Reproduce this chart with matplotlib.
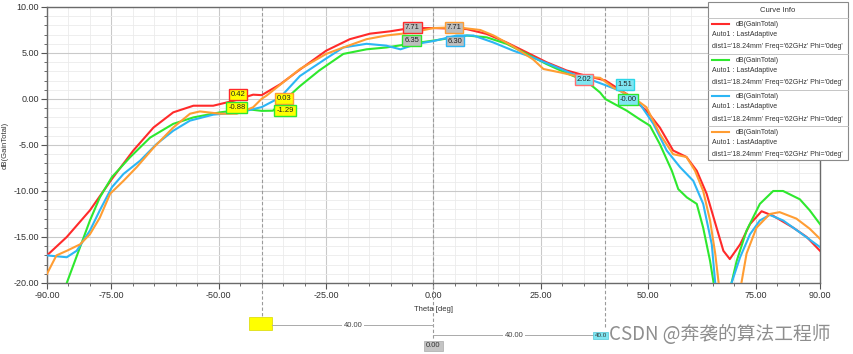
import numpy as np
import matplotlib.pyplot as plt
from matplotlib.patches import Rectangle
from matplotlib.lines import Line2D

# --- data (theta in deg, gain in dB) ---
red_theta = [-90, -85.4, -80, -74.9, -69.9, -65.2, -60.6, -55.9, -51.3, -46.6, -42, -40, -35.7,
             -31.1, -25, -19.5, -14.8, -10.2, -5.5, 0, 7.7, 12.4, 17, 21.7, 26.3, 31, 35.7, 40,
             45, 49.6, 52.7, 55.8, 58.9, 61.3, 63.6, 65.9, 67.5, 69, 71.4, 73.7, 76.4, 79.1,
             83.8, 86.9, 90]
red_gain = [-17.0, -15.0, -12.1, -8.7, -5.6, -3.1, -1.45, -0.73, -0.73, -0.2, 0.47, 0.42, 1.6,
            3.2, 5.25, 6.5, 7.1, 7.35, 7.7, 7.71, 7.6, 7.07, 6.15, 5.07, 4.0, 3.1, 2.5, 2.02,
            0.54, -1.27, -3.1, -5.6, -6.3, -7.8, -10.3, -13.96, -16.5, -17.4, -15.8, -13.6,
            -12.2, -12.7, -14.0, -15.0, -16.5]

green_theta = [-88, -85.4, -82.3, -80, -77.7, -74.9, -70.7, -66, -60.6, -55.9, -49.7, -43.5, -40,
               -37.4, -31.1, -26.6, -21, -15.6, -11, -5.4, 0, 7.8, 12.4, 17, 21.7, 26.3, 31,
               35.7, 38.8, 40, 45, 48, 50.4, 52.7, 55.5, 57, 59, 61.3, 62.8, 64.4, 65.2, 67,
               69.4, 70.6, 72.9, 76, 79.1, 81.4, 85.3, 87.6, 90]
green_gain = [-23.0, -20.0, -16.1, -13.2, -10.7, -8.5, -6.35, -4.2, -2.7, -2.0, -1.45, -1.1, -1.29,
              -1.27, 1.4, 3.1, 4.9, 5.4, 5.6, 6.0, 6.35, 6.9, 6.7, 6.0, 4.9, 3.8, 2.8,
              1.9, 0.7, 0.0, -1.27, -2.2, -2.9, -4.9, -7.8, -9.8, -10.7, -11.4, -14.0, -17.6,
              -19.9, -25.0, -20.0, -17.6, -14.3, -11.4, -10.0, -10.0, -10.9, -12.1, -13.6]

blue_theta = [-90, -85.4, -83.1, -80, -77.7, -74.9, -72.2, -68.3, -64.5, -60.6, -56.7, -51.3,
              -45.1, -40, -35.7, -31.1, -25, -21, -15.6, -11, -7.7, -3.8, 0, 5.4, 9.3, 13.9,
              18.6, 23.2, 27.9, 32.5, 37.2, 40, 43.4, 48, 51.2, 54.3, 57.4, 60.5, 62.8, 64.8,
              65.6, 67.5, 69.4, 71.4, 73.7, 76, 78.3, 81.4, 85.3, 90]
blue_gain = [-17.0, -17.2, -16.5, -14.3, -12.1, -9.6, -8.15, -6.7, -4.9, -3.45, -2.35, -1.7,
             -1.45, -0.88, 0.17, 2.5, 4.4, 5.6, 6.0, 5.8, 5.4, 6.0, 6.30, 6.9, 6.9, 6.15,
             5.25, 4.5, 3.6, 2.7, 2.0, 1.51, 0.9, -0.5, -2.7, -5.6, -7.4, -8.9, -11.4, -15.8,
             -20.0, -25.0, -20.0, -17.2, -14.7, -13.2, -12.6, -13.2, -14.5, -16.1]

orange_theta = [-90, -87.8, -85.4, -82.3, -80, -77.7, -75.3, -72.2, -69.1, -65.2, -60.6, -56.7,
                -54.4, -49.7, -45.8, -42, -40, -38.9, -31.1, -25, -21, -15.6, -11, -5.4, 0,
                5.4, 10.9, 14, 18.6, 23.2, 25.6, 29.4, 33.2, 38.8, 41.8, 46.5, 49.6, 52.7,
                55.8, 58.9, 60.9, 62.8, 64.4, 65.6, 66.4, 69, 71.7, 72.9, 75.2, 78.3, 80.6,
                84.5, 87.6, 90]
orange_gain = [-19.0, -17.0, -16.5, -15.8, -14.7, -12.9, -10.3, -8.9, -7.4, -5.3, -3.1, -1.6,
               -1.35, -1.6, -1.6, -0.9, 0.03, 0.36, 3.26, 4.9, 5.6, 6.5, 6.9, 7.2, 7.71,
               7.8, 7.5, 6.9, 5.7, 4.3, 3.26, 2.9, 2.5, 2.3, 1.26, 0.17, -0.9, -3.8,
               -6.0, -6.3, -7.8, -10.0, -13.2, -16.8, -20.0, -25.0, -20.0, -16.8, -14.0, -12.5,
               -12.3, -13.0, -14.1, -15.2]

series = [("#ff2a2a", red_theta, red_gain),
          ("#2ee82e", green_theta, green_gain),
          ("#2cb6f5", blue_theta, blue_gain),
          ("#ff9d33", orange_theta, orange_gain)]

x_ticks = [-90, -75, -50, -25, 0, 25, 50, 75, 90]
y_ticks = [10, 5, 0, -5, -10, -15, -20]
marker_pos = [-40, 0, 40]

# marker labels: (x, y, text, facecolor, edgecolor)
marker_labels = [(-45.5, 0.47, "0.42", "#ffff00", "#ff2a2a"),
                 (-34.8, 0.03, "0.03", "#ffff00", "#ff9d33"),
                 (-45.8, -0.95, "-0.88", "#ffff00", "#2ee82e"),
                 (-34.6, -1.27, "-1.29", "#ffff00", "#2ee82e"),
                 (-4.9, 7.75, "7.71", "#bdbdbd", "#ff2a2a"),
                 (4.8, 7.75, "7.71", "#bdbdbd", "#ff9d33"),
                 (-5.1, 6.35, "6.35", "#bdbdbd", "#2ee82e"),
                 (5.0, 6.30, "6.30", "#bdbdbd", "#2cb6f5"),
                 (35.0, 2.15, "2.02", "#7fe6f2", "#ff6f6f"),
                 (44.6, 1.55, "1.51", "#7fe6f2", "#2cd6e8"),
                 (45.3, -0.02, "-0.00", "#7fe6f2", "#2ee82e")]

legend_lines = ["dB(GainTotal)", "Auto1 : LastAdaptive",
                "dist1='18.24mm' Freq='62GHz' Phi='0deg'"]

plt.rcParams['font.family'] = ['Liberation Sans', 'DejaVu Sans']

W, H = 854, 354
fig = plt.figure(figsize=(W / 100, H / 100), dpi=100)
ax = fig.add_axes([47 / W, 1 - 283 / H, (820 - 47) / W, (283 - 7) / H])

for color, th, g in series:
    ax.plot(th, g, color=color, lw=1.5, solid_joinstyle='round', zorder=3)

ax.set_xlim(-90, 90)
ax.set_ylim(-20, 10)
ax.set_xticks(x_ticks)
ax.set_xticklabels([f"{v:.2f}" for v in x_ticks])
ax.set_yticks(y_ticks)
ax.set_yticklabels([f"{v:.2f}" for v in y_ticks])
ax.set_xticks(np.arange(-90, 91, 5), minor=True)
ax.set_yticks(np.arange(-20, 11, 1), minor=True)
ax.grid(which='major', color='#c9c9c9', lw=0.8)
ax.grid(which='minor', color='#ebebeb', lw=0.6)
ax.set_axisbelow(True)
ax.tick_params(which='major', length=4, width=0.8, color='#555555', labelsize=6.5,
               labelcolor='#333333', pad=2)
ax.tick_params(which='minor', length=2.5, width=0.6, color='#555555')
for s in ax.spines.values():
    s.set_color('#6a6a6a')
    s.set_linewidth(1.0)
ax.set_xlabel("Theta [deg]", fontsize=5.5, color='#333333', labelpad=4)
ax.set_ylabel("dB(GainTotal)", fontsize=5.5, color='#333333', labelpad=3)

# marker lines
trans = ax.get_xaxis_transform()
for xm, ybot in zip(marker_pos, [-0.123, -0.207, -0.163]):
    ax.plot([xm, xm], [1, ybot], transform=trans, color='#9a9a9a', lw=0.8,
            ls=(0, (3, 2)), clip_on=False, zorder=2)

for x, y, t, fc, ec in marker_labels:
    ax.text(x, y, t, fontsize=5.5, ha='center', va='center', color='#222222', zorder=6,
            bbox=dict(boxstyle='square,pad=0.25', fc=fc, ec=ec, lw=1.0))

# delta annotations under the axes
ax.add_patch(Rectangle((-42.9, -0.170), 5.3, 0.047, transform=trans, fc='#ffff00',
                       ec='#d8d800', lw=0.5, clip_on=False))
ax.plot([-37.6, 0], [-0.153, -0.153], transform=trans, color='#aaaaaa', lw=0.7, clip_on=False)
ax.text(-18.8, -0.153, "40.00", transform=trans, fontsize=5.5, ha='center', va='center',
        color='#444444', bbox=dict(fc='white', ec='none', pad=1))
ax.plot([0, 37.6], [-0.19, -0.19], transform=trans, color='#aaaaaa', lw=0.7, clip_on=False)
ax.text(18.8, -0.19, "40.00", transform=trans, fontsize=5.5, ha='center', va='center',
        color='#444444', bbox=dict(fc='white', ec='none', pad=1))
ax.text(38.9, -0.19, "40.0", transform=trans, fontsize=4.5, ha='center', va='center',
        color='#333333', bbox=dict(boxstyle='square,pad=0.2', fc='#7fe6f2', ec='#55c8d8', lw=0.5))
ax.text(0, -0.228, "0.00", transform=trans, fontsize=5.5, ha='center', va='center',
        color='#333333', bbox=dict(boxstyle='square,pad=0.25', fc='#c4c4c4', ec='#aaaaaa', lw=0.5))


# legend box ("Curve Info") in pixel-based figure coords
def fx(px):
    return px / W


def fy(py):
    return 1 - py / H


fig.patches.append(Rectangle((fx(708), fy(160)), fx(848) - fx(708), fy(2) - fy(160),
                             transform=fig.transFigure, fc='white', ec='#8a8a8a', lw=0.8,
                             zorder=10))
fig.text(fx(778), fy(10.5), "Curve Info", fontsize=5.5, ha='center', va='center',
         color='#333333', zorder=11)
for k, (color, _, _) in enumerate(series):
    top = 18 + 36 * k
    fig.lines.append(Line2D([fx(708), fx(848)], [fy(top), fy(top)], transform=fig.transFigure,
                            color='#bbbbbb', lw=0.6, zorder=11))
    fig.lines.append(Line2D([fx(712), fx(729)], [fy(top + 6), fy(top + 6)],
                            transform=fig.transFigure, color=color, lw=1.5, zorder=11))
    fig.text(fx(736), fy(top + 6), legend_lines[0], fontsize=5, va='center', color='#333333',
             zorder=11)
    fig.text(fx(712), fy(top + 17), legend_lines[1], fontsize=5, va='center', color='#333333',
             zorder=11)
    fig.text(fx(712), fy(top + 29), legend_lines[2], fontsize=5, va='center', color='#333333',
             zorder=11)

fig.text(fx(609), fy(335), "CSDN @奔袭的算法工程师", fontsize=13.5, va='center',
         color='#8e8e8e', family=['Noto Sans CJK SC', 'DejaVu Sans'], zorder=12)

fig.savefig("out.png", dpi=100, facecolor='white')
